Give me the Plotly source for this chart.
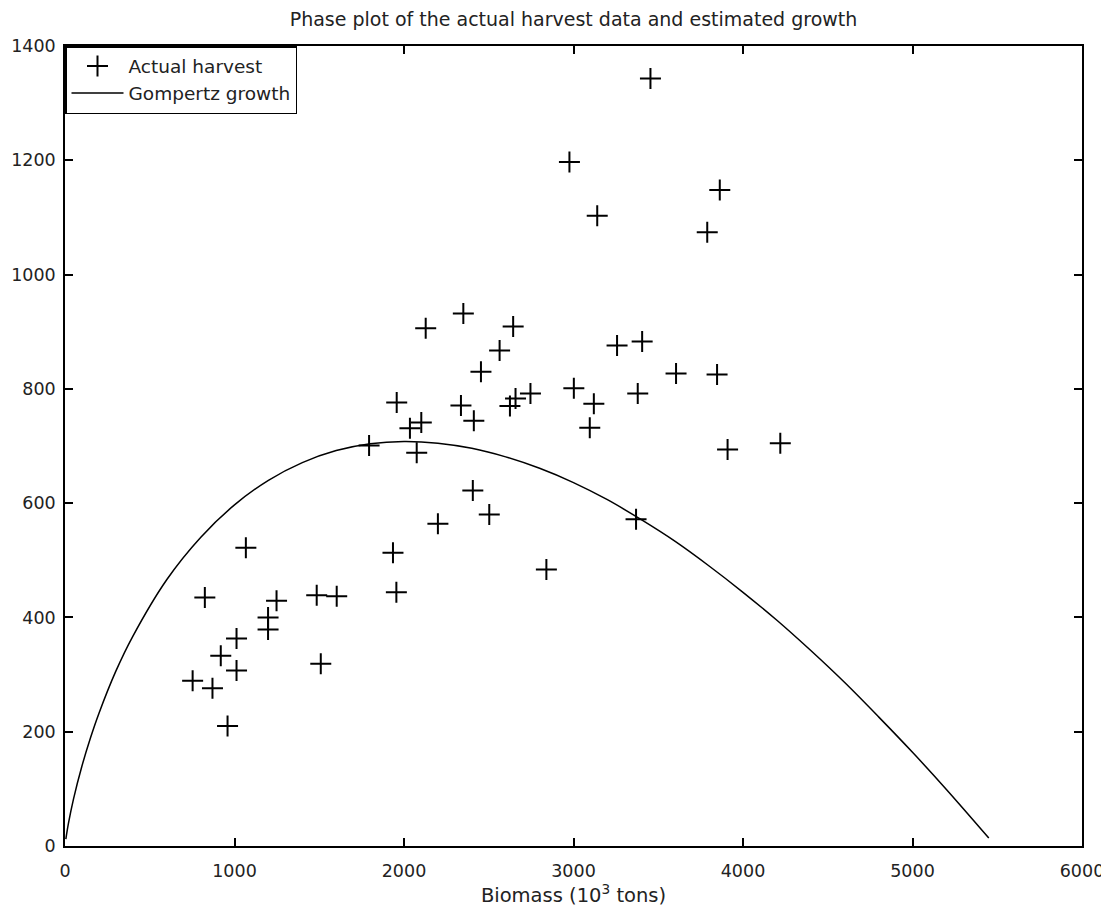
import plotly.graph_objects as go

# Actual harvest observations (biomass, harvest)
harvest_biomass = [3454, 2976, 3140, 3863, 3789, 2350, 2128, 2644, 2564, 2454,
                   1957, 2336, 2746, 2658, 2625, 3002, 3120, 3096, 2412, 2102,
                   2035, 1794, 2075, 2406, 2503, 2200, 1935, 2840, 1955, 1485,
                   1603, 3257, 3405, 3379, 3605, 3847, 3909, 4220, 3369, 1067,
                   825, 1248, 1198, 1198, 1012, 919, 1012, 753, 870, 959, 1509]
harvest_values = [1343, 1197, 1103, 1148, 1074, 932, 906, 909, 867, 830,
                  776, 771, 792, 783, 770, 801, 774, 732, 744, 741,
                  731, 701, 688, 622, 580, 564, 513, 484, 444, 439,
                  437, 876, 883, 792, 827, 825, 694, 705, 572, 522,
                  435, 429, 400, 379, 363, 333, 307, 289, 276, 210, 319]

# Gompertz growth curve
curve_biomass = [5, 20, 50, 100, 150, 200, 300, 400, 600, 800, 1000, 1200, 1400,
                 1600, 1800, 2000, 2200, 2400, 2600, 2800, 3000, 3200, 3400,
                 3600, 3800, 4000, 4200, 4400, 4600, 4800, 5000, 5200, 5450]
curve_growth = [12, 39, 82, 140, 189, 232, 306, 367, 466, 540, 597, 640, 671,
                692, 704, 708, 705, 696, 681, 661, 636, 606, 571,
                533, 490, 444, 395, 342, 286, 226, 164, 99, 14]

x_ticks = [0, 1000, 2000, 3000, 4000, 5000, 6000]
y_ticks = [0, 200, 400, 600, 800, 1000, 1200, 1400]

FONT = "DejaVu Sans, Liberation Sans, sans-serif"
TXT = "#222"

fig = go.Figure()
fig.add_trace(go.Scatter(
    x=harvest_biomass, y=harvest_values, mode="markers", name="Actual harvest",
    marker=dict(symbol="cross-thin", size=15, color="black",
                line=dict(color="black", width=2)),
))
fig.add_trace(go.Scatter(
    x=curve_biomass, y=curve_growth, mode="lines", name="Gompertz growth",
    line=dict(color="black", width=1.5, shape="spline"),
))

axis_common = dict(
    showgrid=False, zeroline=False, showline=True, linecolor="black",
    linewidth=1.5, mirror="allticks", ticks="inside", ticklen=8,
    tickwidth=1.5, tickcolor="black", automargin=False,
    tickfont=dict(family=FONT, size=17.5, color=TXT),
)

fig.update_layout(
    width=1109, height=915,
    margin=dict(l=57, r=35, t=38, b=77),
    paper_bgcolor="white", plot_bgcolor="white",
    title=dict(text="Phase plot of the actual harvest data and estimated growth",
               x=0.5, xanchor="center", xref="paper",
               y=0.988, yref="container", yanchor="middle",
               font=dict(family=FONT, size=19, color=TXT)),
    xaxis=dict(range=[0, 6000], tickvals=x_ticks, ticklabelstandoff=8,
               title=dict(text="Biomass (10<sup>3</sup> tons)",
                          font=dict(family=FONT, size=19.5, color=TXT),
                          standoff=2),
               **axis_common),
    yaxis=dict(range=[0, 1400], tickvals=y_ticks, ticklabelstandoff=4,
               **axis_common),
    legend=dict(x=0, y=1, xanchor="left", yanchor="top",
                bordercolor="black", borderwidth=1.5, bgcolor="white",
                font=dict(family=FONT, size=18.5, color=TXT),
                tracegroupgap=0, itemwidth=52),
    showlegend=True,
)

fig.write_html("out.html")
